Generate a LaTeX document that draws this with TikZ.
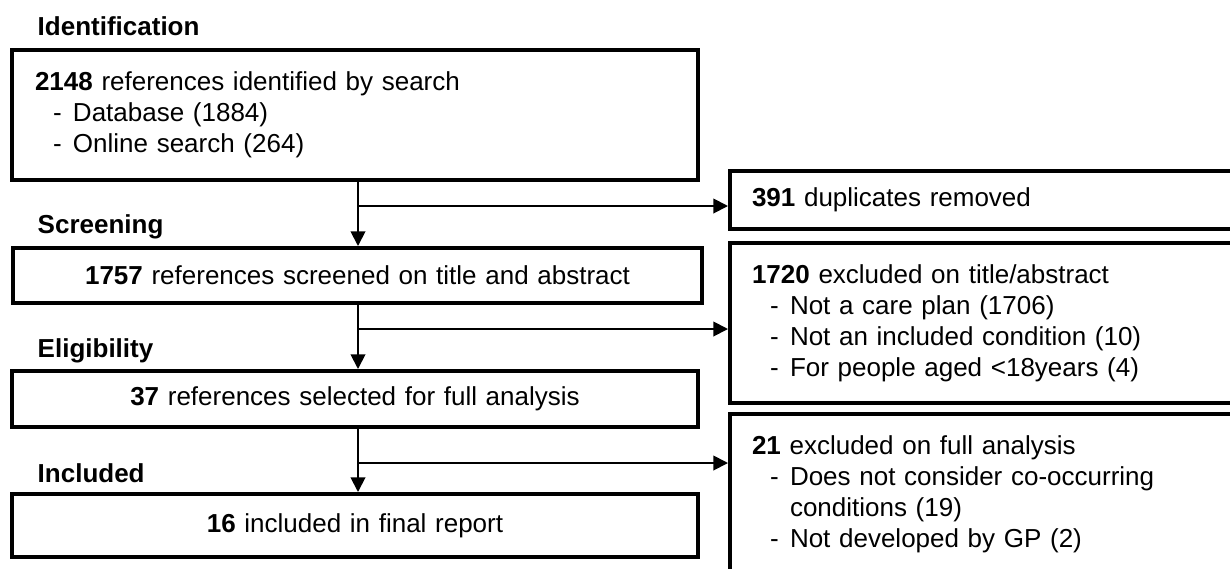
\documentclass[tikz,border=0pt]{standalone}
\usepackage{fontspec}
\setmainfont{Liberation Sans}
\usetikzlibrary{arrows.meta}

\newcommand{\dashitem}[1]{\hspace*{13.5pt}\makebox[15pt][l]{-}#1}
\newcommand{\contline}[1]{\hspace*{28.5pt}#1}

\begin{document}
\begin{tikzpicture}[x=0.75pt,y=-0.75pt,
  every node/.style={font=\fontsize{19.5pt}{23.25pt}\selectfont},
  stage/.style={anchor=base west, font=\fontsize{19.5pt}{23.25pt}\selectfont\bfseries},
  mainbox/.style={draw, line width=3pt, anchor=north west, inner ysep=0pt,
    minimum width=514.5pt, text width=480pt, align=center},
  listbox/.style={draw, line width=3pt, anchor=north west, inner xsep=16.5pt, inner ysep=0pt,
    minimum width=390pt, text width=357pt, align=left},
  flow/.style={line width=1.4pt, -{Triangle[width=11pt,length=11pt]}}]

\useasboundingbox (0,0) rectangle (1230,568);
\fill[white] (0,0) rectangle (1230,568);
\clip (0,0) rectangle (1230,568);

% stage headings
\node[stage] (hid)  at (33,35)  {Identification};
\node[stage] (hscr) at (33,233) {Screening};
\node[stage] (heli) at (33,357) {Eligibility};
\node[stage] (hinc) at (33,482) {Included};

% main column
\node[mainbox, minimum height=97.5pt, inner xsep=17pt, text width=480pt, align=left] (ident) at (10,48) {%
  \textbf{2148} references identified by search\\
  \dashitem{Database (1884)}\\
  \dashitem{Online search (264)}};
\node[mainbox, minimum width=516.75pt, minimum height=41.25pt] (screen) at (11,246)
  {\textbf{1757} references screened on title and abstract};
\node[mainbox, minimum height=42pt] (elig) at (10,369)
  {\textbf{37} references selected for full analysis};
\node[mainbox, minimum height=47.25pt] (incl) at (10,492)
  {\textbf{16} included in final report};

% exclusion column
\node[listbox, minimum height=43.5pt] (dup) at (728,169)
  {\textbf{391} duplicates removed};
\node[listbox, minimum height=120pt] (extitle) at (728,241) {%
  \textbf{1720} excluded on title/abstract\\
  \dashitem{Not a care plan (1706)}\\
  \dashitem{Not an included condition (10)}\\
  \dashitem{For people aged <18years (4)}};
\node[listbox, minimum height=120pt] (exfull) at (728,412) {%
  \textbf{21} excluded on full analysis\\
  \dashitem{Does not consider co-occurring}\\
  \contline{conditions (19)}\\
  \dashitem{Not developed by GP (2)}};

% branch points on the trunk
\coordinate (b1) at (358,206);
\coordinate (b2) at (358,329);
\coordinate (b3) at (358,463);

% connectors
\draw[flow] (ident.south -| b1) -- (screen.north -| b1);
\draw[flow] (b1) -- (b1 -| dup.west);
\draw[flow] (screen.south -| b2) -- (elig.north -| b2);
\draw[flow] (b2) -- (b2 -| extitle.west);
\draw[flow] (elig.south -| b3) -- (incl.north -| b3);
\draw[flow] (b3) -- (b3 -| exfull.west);
\end{tikzpicture}
\end{document}
